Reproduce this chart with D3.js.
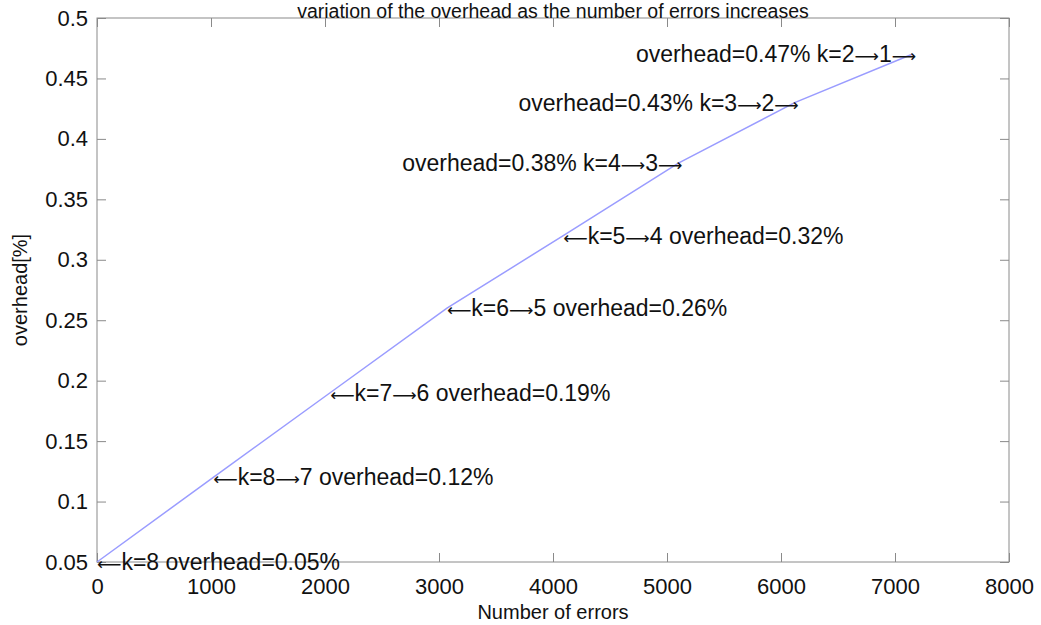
<!DOCTYPE html>
<html>
<head>
<meta charset="utf-8">
<script src="https://cdn.jsdelivr.net/npm/d3@7"></script>
<style>
  html, body { margin: 0; padding: 0; background: #fff; }
  svg { display: block; font-family: "Liberation Sans", Arial, sans-serif; }
</style>
</head>
<body>
<svg id="chart" width="1041" height="625"></svg>
<script>
// Overhead as errors accumulate; each point marks a change of k
const errors   = [0, 1020, 2045, 3070, 4090, 5100, 6120, 7150];
const overhead = [0.05, 0.12, 0.19, 0.26, 0.32, 0.38, 0.43, 0.47];
const labels = [
  "\u27F5k=8 overhead=0.05%",
  "\u27F5k=8\u27F67 overhead=0.12%",
  "\u27F5k=7\u27F66 overhead=0.19%",
  "\u27F5k=6\u27F65 overhead=0.26%",
  "\u27F5k=5\u27F64 overhead=0.32%",
  "overhead=0.38% k=4\u27F63\u27F6",
  "overhead=0.43% k=3\u27F62\u27F6",
  "overhead=0.47% k=2\u27F61\u27F6"
];
const labelSide = ["start", "start", "start", "start", "start", "end", "end", "end"];

const xTicks = [0, 1000, 2000, 3000, 4000, 5000, 6000, 7000, 8000];
const yTicks = [0.05, 0.1, 0.15, 0.2, 0.25, 0.3, 0.35, 0.4, 0.45, 0.5];

const titleText = "variation of the overhead as the number of errors increases";
const xTitle = "Number of errors";
const yTitle = "overhead[%]";

const W = 1041, H = 625;
const m = { left: 97, right: 32, top: 18, bottom: 63 };
const iw = W - m.left - m.right, ih = H - m.top - m.bottom;

const svg = d3.select("#chart");
const g = svg.append("g").attr("transform", `translate(${m.left},${m.top})`);

const x = d3.scaleLinear().domain([0, 8000]).range([0, iw]);
const y = d3.scaleLinear().domain([0.05, 0.5]).range([ih, 0]);

const axisColor = "#8a8a8a";
const textColor = "#111";
const tickLen = 9;

function styleAxis(sel, showText) {
  sel.select(".domain").remove();
  sel.selectAll(".tick line").attr("stroke", axisColor).attr("stroke-width", 1);
  sel.selectAll(".tick text")
    .attr("fill", textColor)
    .attr("font-size", 22)
    .style("display", showText ? null : "none");
}

// inward ticks on all four sides
g.append("g").attr("transform", `translate(0,${ih})`)
  .call(d3.axisBottom(x).tickValues(xTicks).tickFormat(d3.format("d")).tickSizeInner(-tickLen).tickSizeOuter(0).tickPadding(16))
  .call(s => styleAxis(s, true));
g.append("g")
  .call(d3.axisTop(x).tickValues(xTicks).tickSizeInner(-tickLen).tickSizeOuter(0))
  .call(s => styleAxis(s, false));
g.append("g")
  .call(d3.axisLeft(y).tickValues(yTicks).tickFormat(d => String(+d.toFixed(2))).tickSizeInner(-tickLen).tickSizeOuter(0).tickPadding(9))
  .call(s => styleAxis(s, true));
g.append("g").attr("transform", `translate(${iw},0)`)
  .call(d3.axisRight(y).tickValues(yTicks).tickSizeInner(-tickLen).tickSizeOuter(0))
  .call(s => styleAxis(s, false));

// box
g.append("rect").attr("x", 0).attr("y", 0).attr("width", iw).attr("height", ih)
  .attr("fill", "none").attr("stroke", axisColor).attr("stroke-width", 1);

// curve
const line = d3.line().x((d, i) => x(errors[i])).y(d => y(d));
g.append("path").datum(overhead)
  .attr("d", line)
  .attr("fill", "none")
  .attr("stroke", "#9a9cff")
  .attr("stroke-width", 1.5);

// annotations; arrows set in DejaVu Sans so they come out long and thin
const arrowRe = /([\u27F5\u27F6])/;
const ann = g.append("g").selectAll("text").data(labels).join("text")
  .attr("x", (d, i) => x(errors[i]) + (labelSide[i] === "start" ? 0 : 4))
  .attr("y", (d, i) => y(overhead[i]))
  .attr("dy", "0.35em")
  .attr("text-anchor", (d, i) => labelSide[i])
  .attr("font-size", 23)
  .attr("fill", textColor);
ann.each(function (d) {
  const t = d3.select(this);
  d.split(arrowRe).filter(s => s.length).forEach(part => {
    const sp = t.append("tspan").text(part);
    if (arrowRe.test(part)) sp.attr("font-family", "DejaVu Sans").attr("font-size", 17);
  });
});

// titles
svg.append("text")
  .attr("x", m.left + iw / 2).attr("y", 18)
  .attr("text-anchor", "middle").attr("font-size", 19.5).attr("fill", textColor)
  .text(titleText);
svg.append("text")
  .attr("x", m.left + iw / 2).attr("y", 619)
  .attr("text-anchor", "middle").attr("font-size", 20).attr("fill", textColor)
  .text(xTitle);
svg.append("text")
  .attr("transform", `translate(27,${m.top + ih / 2}) rotate(-90)`)
  .attr("text-anchor", "middle").attr("font-size", 20).attr("fill", textColor)
  .text(yTitle);
</script>
</body>
</html>
